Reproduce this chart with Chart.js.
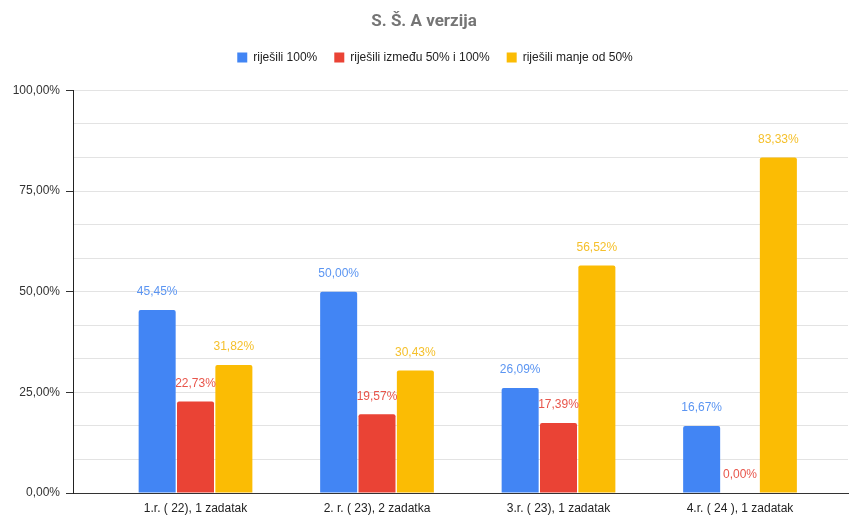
<!DOCTYPE html>
<html>
<head>
<meta charset="utf-8">
<script src="https://cdn.jsdelivr.net/npm/chart.js@4/dist/chart.umd.min.js"></script>
<style>
  html, body { margin: 0; padding: 0; background: #fff; }
  #wrap { width: 850px; height: 515px; }
</style>
</head>
<body>
<div id="wrap"><canvas id="c" width="850" height="515"></canvas></div>
<script>
// Categories (x axis) and the three series, in percent
const categories = ['1.r. ( 22), 1 zadatak', '2. r. ( 23), 2 zadatka', '3.r. ( 23), 1 zadatak', '4.r. ( 24 ), 1 zadatak'];
const seriesNames = ['riješili 100%', 'riješili između 50% i 100%', 'riješili manje od 50%'];
const solvedAll = [45.45, 50.00, 26.09, 16.67];
const solvedHalf = [22.73, 19.57, 17.39, 0.00];
const solvedLess = [31.82, 30.43, 56.52, 83.33];
const yMajorTicks = [0, 25, 50, 75, 100];

const barColors = ['#4285F4', '#EA4335', '#FBBC04'];
const labelColors = ['#5b95f2', '#e8554b', '#f5c02c'];
const FONT = "'Liberation Sans', Arial, sans-serif";

const fmt = v => v.toFixed(2).replace('.', ',') + '%';

function toPoints(arr) { return arr.map((v, i) => ({ x: i, y: v })); }

// Value labels drawn above each bar
const valueLabels = {
  id: 'valueLabels',
  afterDatasetsDraw(chart) {
    const ctx = chart.ctx;
    ctx.save();
    ctx.font = '12px ' + FONT;
    ctx.textAlign = 'center';
    ctx.textBaseline = 'middle';
    chart.data.datasets.forEach((ds, di) => {
      const meta = chart.getDatasetMeta(di);
      meta.data.forEach((el, i) => {
        ctx.fillStyle = labelColors[di];
        ctx.fillText(fmt(ds.data[i].y), el.x, el.y - 18);
      });
    });
    ctx.restore();
  }
};

// Extra space below the legend, and a small rightward shift of the legend row
const legendTweak = {
  id: 'legendTweak',
  beforeLayout(chart) {
    const lg = chart.legend;
    if (lg && !lg._tweaked) {
      const fit = lg.fit.bind(lg);
      lg.fit = function () { fit(); this.height += 17; };
      const draw = lg.draw.bind(lg);
      lg.draw = function () {
        const ctx = this.ctx;
        ctx.save();
        ctx.translate(11, 0);
        draw();
        ctx.restore();
      };
      lg._tweaked = true;
    }
  }
};

new Chart(document.getElementById('c'), {
  type: 'bar',
  data: {
    datasets: [solvedAll, solvedHalf, solvedLess].map((arr, i) => ({
      label: seriesNames[i],
      data: toPoints(arr),
      backgroundColor: barColors[i],
      borderRadius: { topLeft: 2, topRight: 2 },
      borderSkipped: 'bottom',
      categoryPercentage: 0.634,
      barPercentage: 0.965
    }))
  },
  plugins: [valueLabels, legendTweak],
  options: {
    responsive: false,
    animation: false,
    layout: { padding: { left: 0, right: 2, top: 0, bottom: 0 } },
    plugins: {
      title: {
        display: true,
        text: 'S. Š. A verzija',
        color: '#757575',
        font: { family: 'Roboto', size: 17, weight: 'bold' },
        padding: { top: 12, bottom: 2 }
      },
      legend: {
        display: true,
        labels: {
          color: '#222',
          font: { family: FONT, size: 12 },
          boxWidth: 10,
          boxHeight: 10,
          padding: 17
        }
      },
      tooltip: { enabled: false }
    },
    scales: {
      x: {
        type: 'linear',
        offset: false,
        min: -0.675,
        max: 3.595,
        afterBuildTicks: s => { s.ticks = categories.map((c, i) => ({ value: i })); },
        afterFit: s => { s.height = 22; },
        grid: { display: false, drawTicks: false, offset: false },
        border: { display: true, color: '#333', width: 1 },
        ticks: {
          padding: 8,
          color: '#222',
          font: { family: FONT, size: 12 },
          callback: v => categories[v] ?? '',
          maxRotation: 0,
          autoSkip: false
        }
      },
      y: {
        min: 0,
        max: 100,
        afterBuildTicks: s => {
          const t = [];
          for (let i = 0; i <= 12; i++) t.push({ value: i * 100 / 12 });
          s.ticks = t;
        },
        afterFit: s => { s.width = 73; },
        grid: {
          color: '#e3e3e3',
          lineWidth: 1,
          drawTicks: true,
          tickLength: 7,
          tickColor: c => (c.tick && yMajorTicks.some(m => Math.abs(m - c.tick.value) < 1e-6)) ? '#333' : 'rgba(0,0,0,0)'
        },
        border: { display: true, color: '#222', width: 1 },
        ticks: {
          padding: 6,
          color: '#333',
          font: { family: FONT, size: 12 },
          autoSkip: false,
          callback: v => yMajorTicks.some(m => Math.abs(m - v) < 1e-6) ? fmt(v) : ''
        }
      }
    }
  }
});
</script>
</body>
</html>
